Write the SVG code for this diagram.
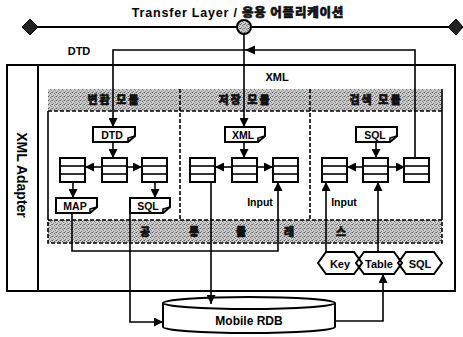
<svg xmlns="http://www.w3.org/2000/svg" width="463" height="337" viewBox="0 0 463 337">
<style>
.ln{fill:none;stroke:#000;stroke-width:1.6}
.bx{fill:#fff;stroke:#000;stroke-width:2}
.dl{fill:none;stroke:#000;stroke-width:1.6;stroke-dasharray:4 2}
.gr{fill:url(#dots)}
.t{font-family:"Liberation Sans",Arial,sans-serif;font-weight:bold;fill:#000}
.k{font-family:"Noto Sans CJK KR","Liberation Sans",sans-serif;font-weight:900;fill:#111;stroke:#111;stroke-width:0.6}
</style>
<defs>
<pattern id="dots" width="4" height="4" patternUnits="userSpaceOnUse">
<rect width="4" height="4" fill="#cfcfcf"/>
<rect x="0" y="0" width="1" height="1" fill="#555"/>
<rect x="2" y="1" width="1" height="1" fill="#6a6a6a"/>
<rect x="1" y="3" width="1" height="1" fill="#777"/>
<rect x="3" y="2" width="1" height="1" fill="#888"/>
<rect x="3" y="0" width="1" height="1" fill="#999"/>
</pattern>
<marker id="ar" viewBox="0 0 10 10" refX="10" refY="5" markerWidth="9" markerHeight="9" markerUnits="userSpaceOnUse" orient="auto">
<path d="M0,0 L10,5 L0,10 Z" fill="#000"/>
</marker>
<g id="lst"><rect class="bx" x="0" y="0" width="25" height="24"/><line class="ln" x1="0" y1="8" x2="25" y2="8"/><line class="ln" x1="0" y1="16" x2="25" y2="16"/></g>
</defs>

<g id="title"><text class="t" x="238" y="17" font-size="12.5" text-anchor="middle" letter-spacing="0.8">Transfer Layer / <tspan class="k" stroke-width="0.4">응용 어플리케이션</tspan></text></g>

<g id="transfer-layer">
<line x1="30" y1="27" x2="456" y2="27" stroke="#000" stroke-width="2"/>
<polygon points="22,27 30,19 38,27 30,35" fill="#222" stroke="#000"/>
<polygon points="448,27 456,19 463,27 456,35" fill="#222" stroke="#000"/>
<circle cx="244" cy="27" r="7" fill="url(#dots)" stroke="#000" stroke-width="2"/>
</g>

<g id="frame">
<rect x="7" y="65" width="448" height="226" fill="none" stroke="#000" stroke-width="2"/>
<line x1="38" y1="65" x2="38" y2="291" stroke="#000" stroke-width="2"/>
<text class="t" font-size="14" transform="translate(17,175) rotate(90)" text-anchor="middle">XML Adapter</text>
</g>

<g id="modules">
<rect class="gr" x="48" y="89" width="394" height="22"/>
<line class="dl" x1="48" y1="111" x2="442" y2="111"/>
<line class="ln" x1="48" y1="111" x2="48" y2="220"/>
<line class="ln" x1="442" y1="89" x2="442" y2="220"/>
<line class="dl" x1="180" y1="89" x2="180" y2="220"/>
<line class="dl" x1="310" y1="89" x2="310" y2="220"/>
<text class="k" x="114" y="104" font-size="11" text-anchor="middle" letter-spacing="2">변환 모듈</text>
<text class="k" x="245" y="104" font-size="11" text-anchor="middle" letter-spacing="2">저장 모듈</text>
<text class="k" x="376" y="104" font-size="11" text-anchor="middle" letter-spacing="2">검색 모듈</text>
</g>

<g id="common-class">
<rect class="gr" x="48" y="220" width="394" height="23"/>
<rect class="dl" x="48" y="220" width="394" height="23"/>
<text class="k" x="145" y="236" font-size="11" text-anchor="middle">공</text>
<text class="k" x="194" y="236" font-size="11" text-anchor="middle">통</text>
<text class="k" x="241" y="236" font-size="11" text-anchor="middle">클</text>
<text class="k" x="289" y="236" font-size="11" text-anchor="middle">래</text>
<text class="k" x="341" y="236" font-size="11" text-anchor="middle">스</text>
</g>

<g id="mobile-rdb">
<path class="bx" d="M163,303 V327 A86,6 0 0 0 335,327 V303"/>
<ellipse class="bx" cx="249" cy="303" rx="86" ry="6"/>
<text class="t" x="249" y="325" font-size="12" text-anchor="middle">Mobile RDB</text>
</g>

<g id="connectors">
<polyline class="ln" points="415,158 415,50 113,50 113,127" marker-end="url(#ar)"/>
<polygon points="245,50 255,45.5 255,54.5" fill="#000"/>
<line class="ln" x1="244" y1="34" x2="244" y2="127" marker-end="url(#ar)"/>
<line class="ln" x1="113" y1="142" x2="113" y2="158" marker-end="url(#ar)"/>
<line class="ln" x1="102" y1="167" x2="85" y2="167" marker-end="url(#ar)"/>
<line class="ln" x1="127" y1="167" x2="142" y2="167" marker-end="url(#ar)"/>
<line class="ln" x1="73" y1="182" x2="73" y2="198" marker-end="url(#ar)"/>
<line class="ln" x1="155" y1="182" x2="155" y2="198" marker-end="url(#ar)"/>
<polyline class="ln" points="72,213 72,251 278,251 278,182" marker-end="url(#ar)"/>
<polyline class="ln" points="130,213 130,322 163,322" marker-end="url(#ar)"/>
<line class="ln" x1="244" y1="142" x2="244" y2="158" marker-end="url(#ar)"/>
<line class="ln" x1="232" y1="167" x2="215" y2="167" marker-end="url(#ar)"/>
<line class="ln" x1="257" y1="167" x2="273" y2="167" marker-end="url(#ar)"/>
<line class="ln" x1="211" y1="182" x2="211" y2="304" marker-end="url(#ar)"/>
<line class="ln" x1="376" y1="142" x2="376" y2="158" marker-end="url(#ar)"/>
<line class="ln" x1="363" y1="167" x2="347" y2="167" marker-end="url(#ar)"/>
<line class="ln" x1="388" y1="167" x2="405" y2="167" marker-end="url(#ar)"/>
<line class="ln" x1="326" y1="252" x2="326" y2="182" marker-end="url(#ar)"/>
<line class="ln" x1="378" y1="252" x2="378" y2="182" marker-end="url(#ar)"/>
<polyline class="ln" points="335,321 383,321 383,274" marker-end="url(#ar)"/>
</g>

<g id="labels">
<text class="t" x="79" y="55" font-size="11" text-anchor="middle">DTD</text>
<text class="t" x="277" y="81" font-size="11" text-anchor="middle">XML</text>
<text class="t" x="260" y="206" font-size="10.5" text-anchor="middle">Input</text>
<text class="t" x="344" y="206" font-size="10.5" text-anchor="middle">Input</text>
</g>

<g id="doc-dtd"><path class="bx" d="M93,127 H135 V136 L128,142 H93 Z"/><path class="ln" d="M128,142 V138 L135,136" stroke-width="1"/><text class="t" x="112" y="139" font-size="10.5" text-anchor="middle">DTD</text></g>
<g id="doc-xml"><path class="bx" d="M225,127 H265 V136 L258,142 H225 Z"/><path class="ln" d="M258,142 V138 L265,136" stroke-width="1"/><text class="t" x="243" y="139" font-size="10.5" text-anchor="middle">XML</text></g>
<g id="doc-sql3"><path class="bx" d="M356,127 H397 V136 L390,142 H356 Z"/><path class="ln" d="M390,142 V138 L397,136" stroke-width="1"/><text class="t" x="375" y="139" font-size="10.5" text-anchor="middle">SQL</text></g>
<g id="doc-map"><path class="bx" d="M56,198 H97 V207 L90,213 H56 Z"/><path class="ln" d="M90,213 V209 L97,207" stroke-width="1"/><text class="t" x="75" y="210" font-size="10.5" text-anchor="middle">MAP</text></g>
<g id="doc-sql1"><path class="bx" d="M130,198 H170 V207 L163,213 H130 Z"/><path class="ln" d="M163,213 V209 L170,207" stroke-width="1"/><text class="t" x="148" y="210" font-size="10.5" text-anchor="middle">SQL</text></g>

<g id="list-m1-left"><use href="#lst" x="60" y="158"/></g>
<g id="list-m1-mid"><use href="#lst" x="102" y="158"/></g>
<g id="list-m1-right"><use href="#lst" x="142" y="158"/></g>
<g id="list-m2-left"><use href="#lst" x="190" y="158"/></g>
<g id="list-m2-mid"><use href="#lst" x="232" y="158"/></g>
<g id="list-m2-right"><use href="#lst" x="273" y="158"/></g>
<g id="list-m3-left"><use href="#lst" x="322" y="158"/></g>
<g id="list-m3-mid"><use href="#lst" x="363" y="158"/></g>
<g id="list-m3-right"><use href="#lst" x="404" y="158"/></g>

<g id="hex-key"><polygon class="bx" points="318,263 326,252 354,252 362,263 354,274 326,274"/><text class="t" x="340" y="267.5" font-size="11" text-anchor="middle">Key</text></g>
<g id="hex-table"><polygon class="bx" points="356,263 364,252 394,252 402,263 394,274 364,274" fill-opacity="0"/><text class="t" x="379" y="267.5" font-size="11" text-anchor="middle">Table</text></g>
<g id="hex-sql"><polygon class="bx" points="398,263 406,252 434,252 442,263 434,274 406,274" fill-opacity="0"/><text class="t" x="420" y="267.5" font-size="11" text-anchor="middle">SQL</text></g>
</svg>
